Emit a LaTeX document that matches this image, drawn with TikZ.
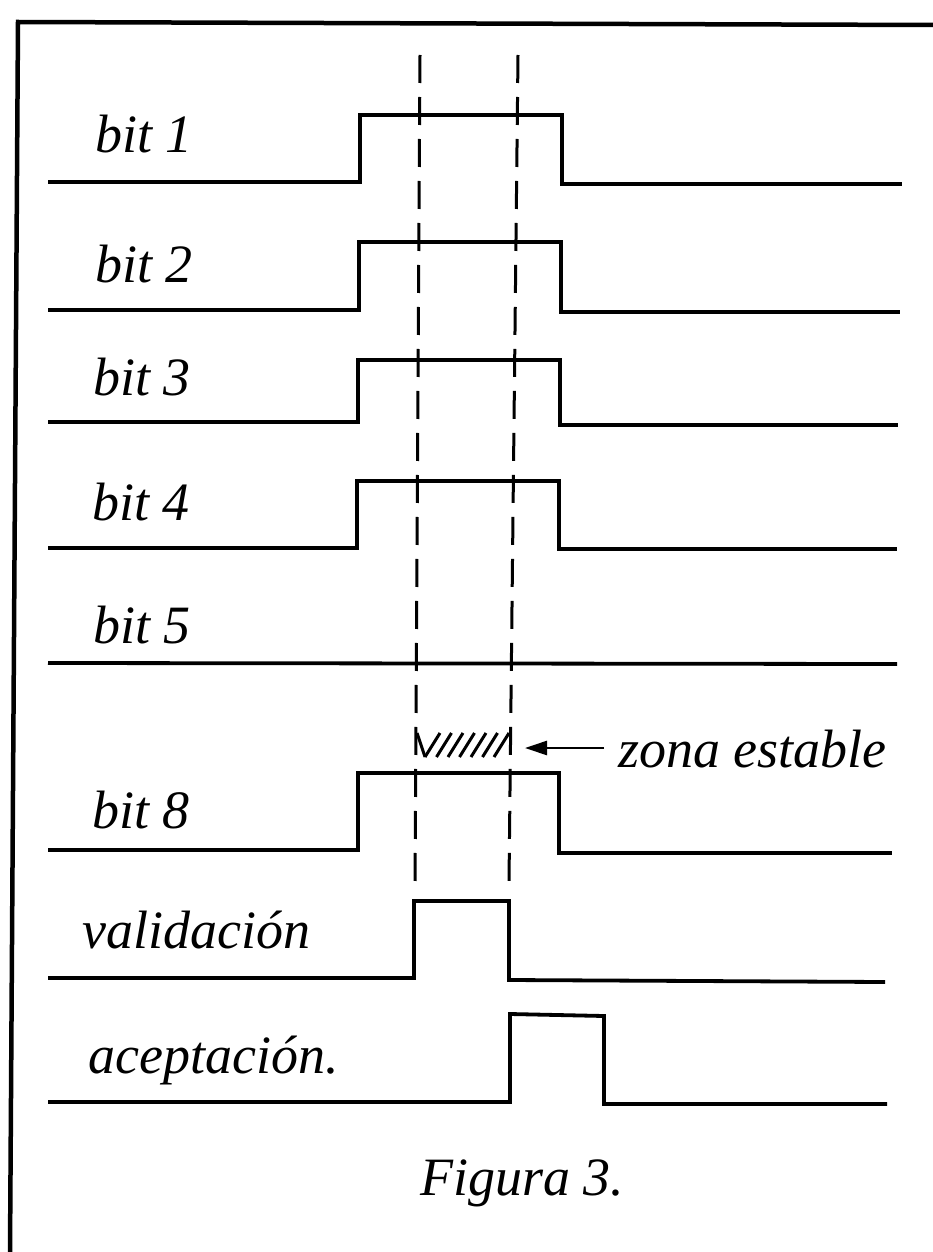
\documentclass[tikz,border=0pt]{standalone}
\usepackage{fontspec}
\setmainfont{Liberation Serif}
\usetikzlibrary{arrows.meta}
\tikzset{
  wave/.style={line width=3.8pt, line join=miter, line cap=butt},
  frameline/.style={line width=4.5pt},
  guide/.style={line width=3pt, dash pattern=on 28pt off 14pt},
  hatchline/.style={line width=3pt},
  lbl/.style={anchor=base west, inner sep=0pt, font=\fontsize{54}{60}\selectfont\itshape},
}
\begin{document}
\begin{tikzpicture}[x=1pt,y=-1pt]
\useasboundingbox (0,0) rectangle (933,1252);
% frame
\draw[frameline] (10,1252) -- (18,22) -- (933,25);
% guides
\draw[guide] (420,55) -- (415,882);
\draw[guide] (518,55) -- (509,882);
% waveforms
\draw[wave] (48,182) -- (360,182) -- (360,115) -- (562,115) -- (562,184) -- (902,184);
\draw[wave] (48,310) -- (359,310) -- (359,242) -- (561,242) -- (561,312) -- (900,312);
\draw[wave] (48,422) -- (358,422) -- (358,360) -- (560,360) -- (560,425) -- (898,425);
\draw[wave] (48,548) -- (357,548) -- (357,481) -- (559,481) -- (559,549) -- (897,549);
\draw[wave] (48,663) -- (897,664);
\draw[wave] (48,850) -- (358,850) -- (358,773) -- (559,773) -- (559,853) -- (892,853);
\draw[wave] (48,978) -- (414,978) -- (414,901) -- (509,901) -- (509,980) -- (885,982);
\draw[wave] (48,1102) -- (510,1102) -- (510,1014) -- (604,1016) -- (604,1104) -- (887,1104);
% hatch (zona estable)
\draw[hatchline] (417,733) -- (425,757);
\foreach \i in {0,...,6} {
  \draw[hatchline] ({425+11.5*\i},757) -- ({440+11.5*\i},733);
}
% labels
\node[lbl] (b1) at (95,153) {bit 1};
\node[lbl] (b2) at (95,282) {bit 2};
\node[lbl] (b3) at (93,395) {bit 3};
\node[lbl] (b4) at (92,520) {bit 4};
\node[lbl] (b5) at (93,643) {bit 5};
\node[lbl] (b8) at (92,828) {bit 8};
\node[lbl] (val) at (82,948) {validación};
\node[lbl] (ace) at (88,1073) {aceptación.};
\node[lbl] (zona) at (618,767) {zona estable};
\node[lbl] (fig) at (420,1195) {Figura 3.};
\coordinate (tip) at (525,748);
\draw[line width=2.6pt, -{Triangle[length=22pt,width=14pt]}] (zona.west |- 0,748) ++(-14,0) -- (tip);
\end{tikzpicture}
\end{document}
